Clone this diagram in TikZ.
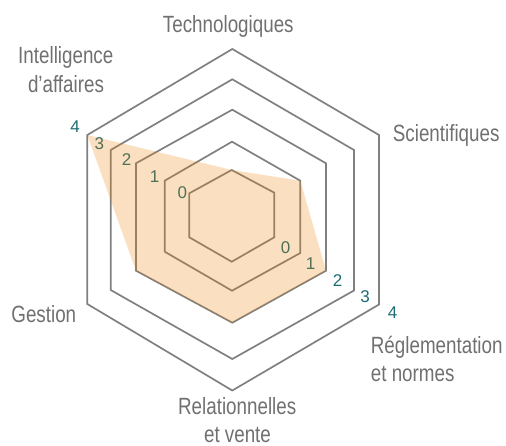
\documentclass[tikz,border=0pt]{standalone}
\usepackage{fontspec}
\setmainfont{Liberation Sans}[FakeStretch=0.8]
\newfontfamily\numfont{Liberation Sans}
\definecolor{gridgray}{HTML}{808080}
\definecolor{labgray}{HTML}{707070}
\definecolor{numteal}{HTML}{1B6C72}
\definecolor{dataor}{HTML}{EB7F03}
\begin{document}
\begin{tikzpicture}[x=1pt,y=-1pt,
  grid/.style={draw=gridgray,line width=1.7pt,line join=miter},
  lab/.style={text=labgray,font=\fontsize{23.5}{28}\selectfont,inner sep=0pt,anchor=base},
  num/.style={text=numteal,font=\numfont\fontsize{17}{20}\selectfont,inner sep=0pt,anchor=center},
  datafill/.style={fill=dataor,fill opacity=0.25}]
\useasboundingbox (0,0) rectangle (506,445);
% grid hexagons (levels 4..0)
\draw[grid] (232.3,49) -- (379,135) -- (379,304.5) -- (232.3,390.5) -- (87.3,304) -- (87.3,135) -- cycle;
\draw[grid] (232.3,79.3) -- (354,150) -- (354,290.5) -- (232.3,359) -- (110.7,290) -- (110.7,150) -- cycle;
\draw[grid] (232.3,109.7) -- (326,163.3) -- (326,270.7) -- (232.3,322.7) -- (136,270.7) -- (136,163.3) -- cycle;
\draw[grid] (232,141.7) -- (300.3,180.7) -- (300.3,253) -- (232,290.7) -- (164.7,251.7) -- (164.7,180.7) -- cycle;
\draw[grid] (231.7,170) -- (274.3,192.7) -- (274.3,237.3) -- (231.7,261.7) -- (189.3,237.3) -- (189.3,193.3) -- cycle;
% scale numbers
\node[num] (n4a) at (75,126.7) {4};
\node[num] (n3a) at (99.3,143.3) {3};
\node[num] (n2a) at (126.7,159.3) {2};
\node[num] (n1a) at (154.7,176.7) {1};
\node[num] (n0a) at (182.3,192.7) {0};
\node[num] (n0b) at (285.7,247.7) {0};
\node[num] (n1b) at (310.7,264) {1};
\node[num] (n2b) at (337.7,281) {2};
\node[num] (n3b) at (365,296.7) {3};
\node[num] (n4b) at (392.7,312.7) {4};
% axis labels
\node[lab] (tech) at (228.3,32.7) {Technologiques};
\node[lab] (int1) at (65.8,63) {Intelligence};
\node[lab] (int2) at (66,92) {d’affaires};
\node[lab] (sci) at (446.2,141.7) {Scientifiques};
\node[lab] (ges) at (43.8,322) {Gestion};
\node[lab,anchor=base west] (reg1) at (370.7,353.3) {Réglementation};
\node[lab,anchor=base west] (reg2) at (370.7,381.7) {et normes};
\node[lab] (rel1) at (237.2,414) {Relationnelles};
\node[lab] (rel2) at (237.5,442) {et vente};
% data polygon
\fill[datafill] (87.3,135) -- (231.7,170) -- (300.3,180.7) -- (326,270.7) -- (232.3,322.7) -- (136,270.7) -- cycle;
\end{tikzpicture}
\end{document}
